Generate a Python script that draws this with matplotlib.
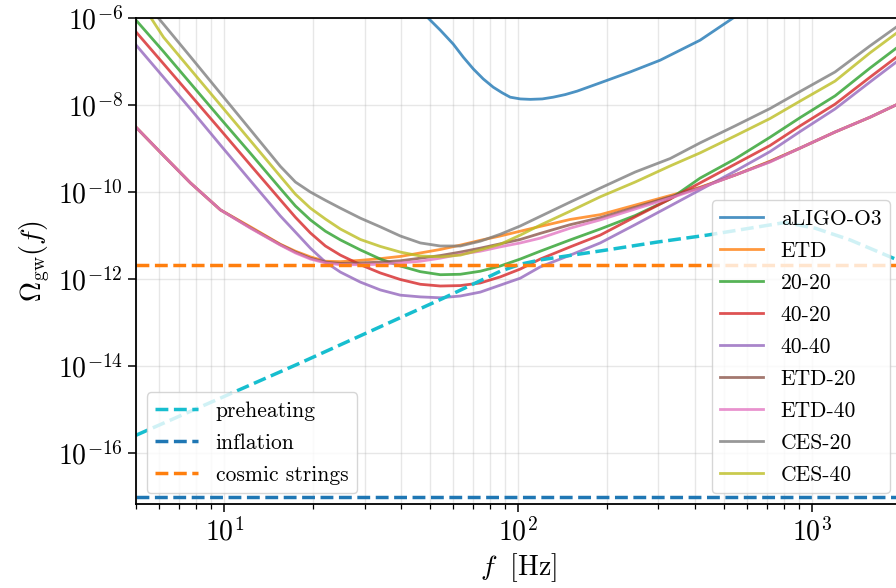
import numpy as np
import matplotlib.pyplot as plt
from matplotlib.ticker import NullLocator

plt.rcParams.update({
    'font.family': 'serif',
    'font.serif': ['cmr10'],
    'mathtext.fontset': 'cm',
    'axes.unicode_minus': False,
    'axes.formatter.use_mathtext': True,
})

# frequency grid (Hz) shared by the detector sensitivity curves
f_det = [5, 6.20, 7.66, 9.69, 12.26, 15.5, 17.44, 19.61, 22.06, 24.81, 29.01, 33.93, 39.68,
         46.42, 54.29, 63.49, 74.26, 86.86, 101.6, 118.8, 150.3, 190.1, 250.0, 328.9, 415.9,
         547.1, 719.7, 910.4, 1197.6, 1575.4, 2000]

# log10 Omega_gw
log_etd = [-8.51, -9.16, -9.79, -10.41, -10.80, -11.20, -11.36, -11.49, -11.59, -11.60,
           -11.57, -11.53, -11.48, -11.40, -11.32, -11.22, -11.11, -11.01, -10.90, -10.79,
           -10.63, -10.52, -10.30, -10.08, -9.89, -9.61, -9.29, -8.99, -8.62, -8.28, -7.95]
log_20_20 = [-6.05, -6.77, -7.50, -8.31, -9.11, -9.92, -10.32, -10.64, -10.90, -11.10,
             -11.33, -11.54, -11.70, -11.83, -11.90, -11.89, -11.82, -11.70, -11.54, -11.36,
             -11.10, -10.85, -10.54, -10.16, -9.68, -9.24, -8.74, -8.29, -7.79, -7.15, -6.62]
log_40_20 = [-6.32, -7.05, -7.77, -8.57, -9.38, -10.18, -10.58, -10.94, -11.24, -11.45,
             -11.67, -11.86, -12.01, -12.12, -12.16, -12.15, -12.09, -11.95, -11.77, -11.54,
             -11.26, -10.99, -10.57, -10.16, -9.79, -9.36, -8.93, -8.48, -7.98, -7.36, -6.83]
log_40_40 = [-6.62, -7.36, -8.09, -8.92, -9.74, -10.55, -10.92, -11.29, -11.61, -11.84,
             -12.07, -12.25, -12.37, -12.41, -12.43, -12.39, -12.30, -12.14, -11.98, -11.72,
             -11.45, -11.17, -10.75, -10.32, -9.95, -9.52, -9.07, -8.61, -8.09, -7.47, -6.94]
log_etd_20 = [-8.51, -9.16, -9.79, -10.41, -10.82, -11.21, -11.38, -11.52, -11.61, -11.64,
              -11.63, -11.61, -11.58, -11.52, -11.46, -11.38, -11.29, -11.19, -11.09, -10.95,
              -10.75, -10.59, -10.35, -10.11, -9.90, -9.61, -9.30, -8.99, -8.62, -8.28, -7.95]
log_etd_40 = [-8.51, -9.16, -9.79, -10.41, -10.83, -11.22, -11.40, -11.54, -11.63, -11.67,
              -11.67, -11.66, -11.63, -11.59, -11.52, -11.43, -11.36, -11.26, -11.17, -11.06,
              -10.83, -10.64, -10.39, -10.14, -9.91, -9.61, -9.31, -8.99, -8.62, -8.28, -7.95]
log_ces_20 = [-5.39, -6.14, -6.89, -7.73, -8.57, -9.41, -9.77, -10.00, -10.19, -10.37,
              -10.60, -10.80, -11.01, -11.17, -11.24, -11.24, -11.13, -10.97, -10.78, -10.56,
              -10.23, -9.91, -9.54, -9.23, -8.87, -8.48, -8.08, -7.69, -7.24, -6.64, -6.14]
log_ces_40 = [-5.47, -6.44, -7.18, -8.00, -8.82, -9.64, -10.05, -10.37, -10.62, -10.85,
              -11.09, -11.25, -11.38, -11.47, -11.49, -11.45, -11.33, -11.20, -10.99, -10.76,
              -10.44, -10.11, -9.77, -9.40, -9.10, -8.71, -8.31, -7.91, -7.45, -6.80, -6.28]

# aLIGO O3
f_ligo = [44.6, 49.0, 54.3, 60.1, 65.0, 70.3, 76.0, 82.2, 88.2, 93.9, 101.6, 109.9, 120.7,
          131.5, 144.5, 158.8, 190.1, 240.4, 304.1, 415.9, 538.6, 665.4]
log_ligo = [-5.70, -5.98, -6.28, -6.60, -6.90, -7.17, -7.40, -7.59, -7.72, -7.82, -7.86,
            -7.87, -7.86, -7.82, -7.76, -7.68, -7.49, -7.24, -6.97, -6.51, -6.00, -5.59]

# signal models
f_pre = [5, 18.1, 55.6, 86.9, 101.6, 118.8, 200.8, 297.1, 439.5, 615.4, 809.4, 1023.8,
         1346.7, 2000]
log_pre = [-15.59, -13.93, -12.44, -11.82, -11.66, -11.56, -11.33, -11.15, -10.99, -10.83,
           -10.70, -10.83, -11.10, -11.59]
f_flat = [5, 2000]
omega_inflation = 1e-17
omega_strings = 2.1e-12

detectors = [
    ("aLIGO-O3", f_ligo, log_ligo),
    ("ETD", f_det, log_etd),
    ("20-20", f_det, log_20_20),
    ("40-20", f_det, log_40_20),
    ("40-40", f_det, log_40_40),
    ("ETD-20", f_det, log_etd_20),
    ("ETD-40", f_det, log_etd_40),
    ("CES-20", f_det, log_ces_20),
    ("CES-40", f_det, log_ces_40),
]

fig = plt.figure(figsize=(8.96, 5.88), dpi=100)
ax = fig.add_axes([136 / 896, 84 / 588, 764.5 / 896, 486 / 588])

solid = []
for i, (name, f, logw) in enumerate(detectors):
    ln, = ax.loglog(f, 10 ** np.array(logw), color=f"C{i}", lw=2, alpha=0.8, label=name)
    solid.append(ln)

dashed = []
ln, = ax.loglog(f_pre, 10 ** np.array(log_pre), '--', color='C9', lw=2.5, label='preheating')
dashed.append(ln)
ln, = ax.loglog(f_flat, [omega_inflation] * 2, '--', color='C0', lw=2.5, label='inflation')
dashed.append(ln)
ln, = ax.loglog(f_flat, [omega_strings] * 2, '--', color='C1', lw=2.5, label='cosmic strings')
dashed.append(ln)

ax.set_xlim(5, 2000)
ax.set_ylim(10 ** -17.17, 1e-6)
ax.set_yticks([1e-16, 1e-14, 1e-12, 1e-10, 1e-8, 1e-6])
ax.yaxis.set_minor_locator(NullLocator())

ax.grid(True, which='both', color='#b0b0b0', alpha=0.3, lw=1.0)
ax.tick_params(which='major', labelsize=20, length=6, width=1.1)
ax.tick_params(which='minor', length=3.5, width=0.9)
for s in ax.spines.values():
    s.set_linewidth(1.3)

ax.set_xlabel(r'$f\ \ [\mathrm{Hz}]$', fontsize=20)
ax.set_ylabel(r'$\Omega_{\mathrm{gw}}(f)$', fontsize=20)

leg1 = ax.legend(handles=solid, loc='lower right', fontsize=15.5, labelspacing=0.58)
ax.add_artist(leg1)
ax.legend(handles=dashed, loc='lower left', fontsize=15.5, labelspacing=0.58)

fig.savefig('out.png', dpi=100)
